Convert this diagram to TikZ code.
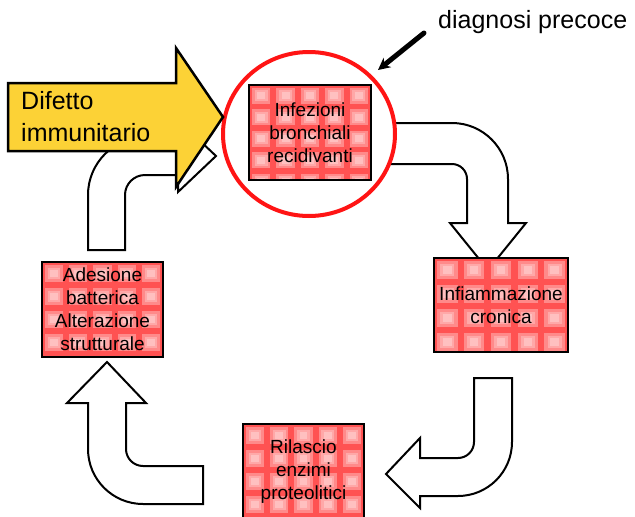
\documentclass[tikz,border=0pt]{standalone}
\usepackage{fontspec}
\setmainfont{Liberation Sans}
\usetikzlibrary{shapes.geometric,arrows.meta}
\definecolor{tilebase}{HTML}{FF5252}
\definecolor{tileA}{HTML}{FF8A8A}
\definecolor{tileB}{HTML}{FFA8A8}
\definecolor{tileC}{HTML}{FFC0C0}
\definecolor{arrowyellow}{HTML}{FCD236}
\definecolor{ringred}{HTML}{FF1414}
\begin{document}
\begin{tikzpicture}[x=1pt,y=-1pt,
 blockarrow/.style={draw=black,fill=white,line width=2pt,line join=miter},
 boxfont/.style={font=\fontsize{19}{23}\selectfont, align=center},
 tiles/.style 2 args={path picture={
   \foreach \i in {0,...,5}{\foreach \j in {0,...,5}{
     \fill[tileA] ([shift={({(\i+0.12)*#1},{(\j+0.12)*#2})}]path picture bounding box.north west) rectangle ++({0.76*#1},{0.76*#2});
     \fill[tileB] ([shift={({(\i+0.24)*#1},{(\j+0.24)*#2})}]path picture bounding box.north west) rectangle ++({0.52*#1},{0.52*#2});
     \fill[tileC] ([shift={({(\i+0.34)*#1},{(\j+0.34)*#2})}]path picture bounding box.north west) rectangle ++({0.32*#1},{0.32*#2});
   }}}},
 tilebox/.style={draw=black,line width=2.5pt,fill=tilebase,inner sep=0pt,boxfont},
]
\useasboundingbox (0,0) rectangle (635,517);

% curved block arrows
\draw[blockarrow] (88,250) -- (88,195) arc[start angle=180,end angle=270,radius=58]
  -- (178,137) -- (178,120) -- (216,156) -- (178,192) -- (178,175) -- (145,175)
  arc[start angle=270,end angle=180,radius=20] -- (125,250) -- cycle;
\draw[blockarrow] (385,123) -- (452,123) arc[start angle=270,end angle=360,radius=56]
  -- (508,223) -- (526,223) -- (488,270) -- (450,223) -- (467,223) -- (467,179)
  arc[start angle=0,end angle=-90,radius=15] -- (385,164) -- cycle;
\draw[blockarrow] (474,378) -- (512,378) -- (512,442) arc[start angle=0,end angle=90,radius=54]
  -- (420,496) -- (420,508) -- (386,474) -- (420,438) -- (420,458) -- (458,458)
  arc[start angle=90,end angle=0,radius=16] -- cycle;
\draw[blockarrow] (203,504) -- (143,504) arc[start angle=90,end angle=180,radius=55]
  -- (88,403) -- (67,403) -- (107,362) -- (146,403) -- (126,403) -- (126,449)
  arc[start angle=180,end angle=90,radius=17] -- (203,466) -- cycle;

% red ring
\node[ellipse,draw=ringred,fill=white,line width=4pt,minimum width=172,minimum height=164,inner sep=0pt] (ring) at (309,134) {};

% boxes
\node[tilebox,tiles={24.4}{21.5},minimum width=122,minimum height=95] (b1) at (310,132.5) {Infezioni\\bronchiali\\recidivanti};
\node[tilebox,tiles={26.8}{24},minimum width=134,minimum height=94] (b2) at (501,305) {Infiammazione\\cronica};
\node[tilebox,tiles={24.2}{23},minimum width=121,minimum height=95] (b3) at (102.5,309.5) {Adesione\\batterica\\Alterazione\\strutturale};
\node[tilebox,tiles={24.2}{23},minimum width=121,minimum height=96] (b4) at (303.5,472) {Rilascio\\enzimi\\proteolitici};

% yellow arrow
\draw[draw=black,fill=arrowyellow,line width=2.5pt,line join=miter]
  (8,83) -- (176,83) -- (176,48) -- (223,117) -- (176,187) -- (176,151) -- (8,151) -- cycle;
\node[anchor=west,inner sep=0pt,align=left,font=\fontsize{25}{32}\selectfont] (dif) at (21,117) {Difetto\\immunitario};

% diagnosi precoce
\node[anchor=base west,inner sep=0pt,font=\fontsize{25}{30}\selectfont] (diag) at (438,28) {diagnosi precoce};
\coordinate (dstart) at (424,33);
\coordinate (dend) at (378,70);
\draw[line width=5pt,line cap=round,-{Stealth[length=12pt,width=12pt]}] (dstart) -- (dend);
\end{tikzpicture}
\end{document}
